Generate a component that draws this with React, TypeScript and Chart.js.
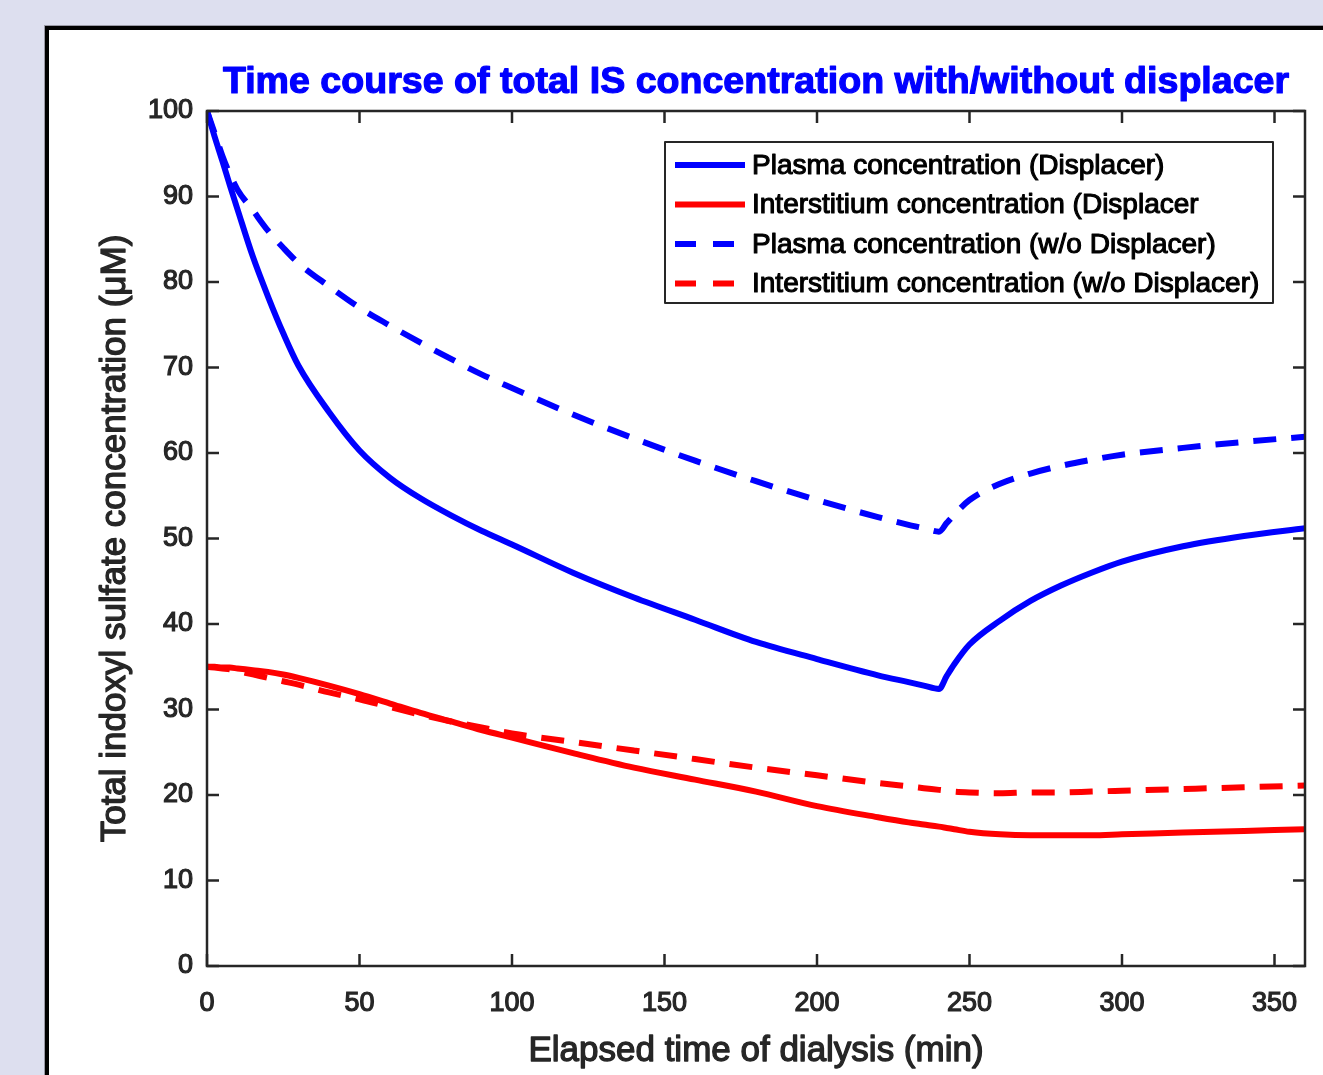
import React, { useEffect, useRef } from "react";
import { Chart, registerables } from "chart.js";

Chart.register(...registerables);

// ---- data ----
const timeMin = [0, 2.5, 5, 7.5, 10, 15, 20, 25, 30, 40, 50, 60, 70, 80, 90, 100, 120, 140, 160, 180, 200, 220, 230, 235, 240, 242.5, 245, 250, 260, 270, 280, 290, 300, 320, 340, 360];

const plasmaDisplacer = [100, 97.0, 94.2, 91.3, 88.5, 83.0, 78.3, 74.0, 70.2, 64.8, 60.3, 57.1, 54.7, 52.7, 50.9, 49.3, 46.0, 43.1, 40.5, 37.9, 35.9, 34.0, 33.2, 32.8, 32.4, 33.9, 35.3, 37.6, 40.4, 42.7, 44.5, 46.0, 47.3, 49.1, 50.3, 51.2];

const interstitiumDisplacer = [35.0, 35.0, 34.9, 34.9, 34.8, 34.6, 34.4, 34.1, 33.7, 32.8, 31.8, 30.7, 29.6, 28.6, 27.6, 26.7, 24.9, 23.2, 21.8, 20.4, 18.7, 17.4, 16.8, 16.55, 16.3, 16.15, 16.0, 15.7, 15.4, 15.3, 15.3, 15.3, 15.4, 15.6, 15.8, 16.0];

const plasmaNoDisplacer = [100, 97.4, 94.8, 92.6, 90.8, 88.4, 86.0, 84.0, 82.2, 79.5, 77.0, 74.9, 72.9, 71.0, 69.2, 67.6, 64.5, 61.7, 59.1, 56.7, 54.5, 52.5, 51.6, 51.2, 50.8, 51.8, 52.8, 54.5, 56.4, 57.6, 58.5, 59.2, 59.8, 60.6, 61.3, 61.9];

const interstitiumNoDisplacer = [35.0, 34.9, 34.8, 34.7, 34.5, 34.1, 33.7, 33.3, 32.9, 32.0, 31.2, 30.3, 29.4, 28.6, 27.9, 27.2, 26.2, 25.2, 24.2, 23.2, 22.3, 21.4, 21.0, 20.8, 20.6, 20.5, 20.4, 20.3, 20.2, 20.3, 20.3, 20.4, 20.5, 20.7, 20.9, 21.1];

const xTicks = [0, 50, 100, 150, 200, 250, 300, 350];
const yTicks = [0, 10, 20, 30, 40, 50, 60, 70, 80, 90, 100];

const seriesLabels = [
  "Plasma concentration (Displacer)",
  "Interstitium concentration (Displacer",
  "Plasma concentration (w/o Displacer)",
  "Interstitium concentration (w/o Displacer)",
];

const chartTitle = "Time course of total IS concentration with/without displacer";
const xAxisLabel = "Elapsed time of dialysis (min)";
const yAxisLabel = "Total indoxyl sulfate concentration (\u03BCM)";

const FONT = "'Liberation Sans', Arial, Helvetica, sans-serif";
const AXIS_COLOR = "#262626";
const BLUE = "#0000ff";
const RED = "#ff0000";
const DASH = [23, 15];

function heavyText(ctx: any, text: string, x: number, y: number, color: string, sw: number) {
  ctx.fillStyle = color;
  ctx.strokeStyle = color;
  ctx.lineWidth = sw;
  ctx.lineJoin = "round";
  ctx.setLineDash([]);
  ctx.strokeText(text, x, y);
  ctx.fillText(text, x, y);
}

const decorPlugin = {
  id: "matlabDecor",
  afterDatasetsDraw(chart: any) {
    const { ctx, chartArea: a, scales } = chart;
    ctx.save();

    // axes box
    ctx.strokeStyle = AXIS_COLOR;
    ctx.lineWidth = 2.5;
    ctx.setLineDash([]);
    ctx.strokeRect(a.left, a.top, a.right - a.left, a.bottom - a.top);

    // inward ticks on all four sides
    const tl = 12;
    const seg = (x1: number, y1: number, x2: number, y2: number) => {
      ctx.beginPath();
      ctx.moveTo(x1, y1);
      ctx.lineTo(x2, y2);
      ctx.stroke();
    };
    xTicks.forEach((v) => {
      const px = scales.x.getPixelForValue(v);
      seg(px, a.bottom, px, a.bottom - tl);
      seg(px, a.top, px, a.top + tl);
    });
    yTicks.forEach((v) => {
      const py = scales.y.getPixelForValue(v);
      seg(a.left, py, a.left + tl, py);
      seg(a.right, py, a.right - tl, py);
    });

    // title
    const cx = (a.left + a.right) / 2;
    ctx.font = `bold 37.6px ${FONT}`;
    ctx.textAlign = "center";
    ctx.textBaseline = "alphabetic";
    heavyText(ctx, chartTitle, cx, 93, BLUE, 1.2);

    // x label
    ctx.font = `35px ${FONT}`;
    heavyText(ctx, xAxisLabel, cx, 1061, AXIS_COLOR, 1.3);

    // y label
    ctx.save();
    ctx.translate(125, (a.top + a.bottom) / 2);
    ctx.rotate(-Math.PI / 2);
    heavyText(ctx, yAxisLabel, 0, 0, AXIS_COLOR, 1.3);
    ctx.restore();

    // legend
    const lx = 665, ly = 142, lw = 608, lh = 161;
    ctx.fillStyle = "#ffffff";
    ctx.fillRect(lx, ly, lw, lh);
    ctx.strokeStyle = AXIS_COLOR;
    ctx.lineWidth = 2;
    ctx.strokeRect(lx, ly, lw, lh);
    ctx.font = `28px ${FONT}`;
    ctx.textAlign = "left";
    ctx.textBaseline = "middle";
    chart.data.datasets.forEach((ds: any, i: number) => {
      const y = 165 + i * 39.5;
      ctx.strokeStyle = ds.borderColor;
      ctx.lineWidth = ds.borderWidth;
      ctx.lineCap = "butt";
      ctx.setLineDash(ds.borderDash && ds.borderDash.length ? [21, 17] : []);
      seg(675, y, 745, y);
      heavyText(ctx, ds.label, 752, y + 1, "#000000", 1.1);
    });

    ctx.restore();
  },
};

function makeSeries(values: number[]) {
  return timeMin.map((t, i) => ({ x: t, y: values[i] }));
}

export default function App() {
  const canvasRef = useRef<HTMLCanvasElement>(null);

  useEffect(() => {
    if (!canvasRef.current) return;
    const common = {
      pointRadius: 0,
      pointHoverRadius: 0,
      borderWidth: 6,
      cubicInterpolationMode: "monotone",
      fill: false,
      borderCapStyle: "butt",
      borderJoinStyle: "round",
    };
    const tickFont = { family: FONT, size: 27 };
    const chart = new Chart(canvasRef.current, {
      type: "line",
      data: {
        datasets: [
          { ...common, label: seriesLabels[0], data: makeSeries(plasmaDisplacer), borderColor: BLUE, backgroundColor: BLUE, order: 3 },
          { ...common, label: seriesLabels[1], data: makeSeries(interstitiumDisplacer), borderColor: RED, backgroundColor: RED, order: 2 },
          { ...common, label: seriesLabels[2], data: makeSeries(plasmaNoDisplacer), borderColor: BLUE, backgroundColor: BLUE, borderDash: DASH, order: 1 },
          { ...common, label: seriesLabels[3], data: makeSeries(interstitiumNoDisplacer), borderColor: RED, backgroundColor: RED, borderDash: DASH, order: 0 },
        ] as any,
      },
      options: {
        responsive: false,
        animation: false,
        devicePixelRatio: 1,
        layout: { padding: { left: 0, top: 111, right: 18, bottom: 0 } },
        plugins: {
          legend: { display: false },
          title: { display: false },
          tooltip: { enabled: false },
        },
        events: [],
        scales: {
          x: {
            type: "linear",
            min: 0,
            max: 360,
            grid: { display: false, drawTicks: false },
            border: { display: false },
            ticks: {
              stepSize: 50,
              includeBounds: false,
              maxRotation: 0,
              autoSkip: false,
              padding: 21,
              color: AXIS_COLOR,
              textStrokeColor: AXIS_COLOR,
              textStrokeWidth: 1.2,
              font: tickFont,
            },
            afterFit: (s: any) => {
              s.height = 1075 - 966;
            },
          },
          y: {
            type: "linear",
            min: 0,
            max: 100,
            grid: { display: false, drawTicks: false },
            border: { display: false },
            ticks: {
              stepSize: 10,
              autoSkip: false,
              padding: 14,
              color: AXIS_COLOR,
              textStrokeColor: AXIS_COLOR,
              textStrokeWidth: 1.2,
              font: tickFont,
            },
            afterFit: (s: any) => {
              s.width = 207;
            },
          },
        },
      } as any,
      plugins: [decorPlugin],
    });
    return () => chart.destroy();
  }, []);

  return (
    <div
      style={{
        position: "fixed",
        left: 0,
        top: 0,
        width: 1323,
        height: 1075,
        background: "#dddfef",
        overflow: "hidden",
      }}
    >
      <div
        style={{
          position: "absolute",
          left: 45,
          top: 26,
          width: 1400,
          height: 1200,
          background: "#ffffff",
          border: "4px solid #000000",
          boxShadow: "0 0 0 1px #9a9aa6",
        }}
      />
      <canvas
        ref={canvasRef}
        width={1323}
        height={1075}
        style={{ position: "absolute", left: 0, top: 0, width: 1323, height: 1075 }}
      />
    </div>
  );
}
